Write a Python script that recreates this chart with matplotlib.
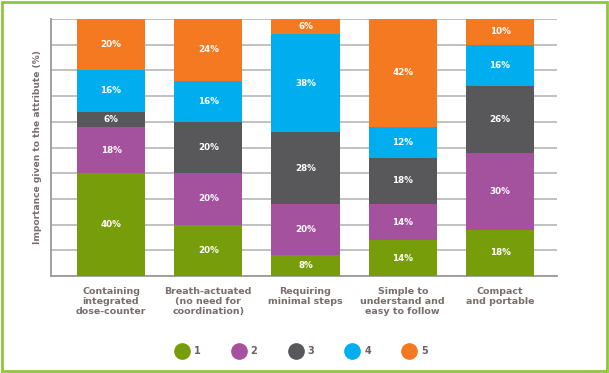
import matplotlib.pyplot as plt
import matplotlib.patches as mpatches
from matplotlib.lines import Line2D

categories = ["Containing\nintegrated\ndose-counter",
              "Breath-actuated\n(no need for\ncoordination)",
              "Requiring\nminimal steps",
              "Simple to\nunderstand and\neasy to follow",
              "Compact\nand portable"]
series_names = ["1", "2", "3", "4", "5"]
s1 = [40, 20, 8, 14, 18]
s2 = [18, 20, 20, 14, 30]
s3 = [6, 20, 28, 18, 26]
s4 = [16, 16, 38, 12, 16]
s5 = [20, 24, 6, 42, 10]
series = [s1, s2, s3, s4, s5]
colors = ["#789D0B", "#A5529E", "#58585A", "#00AEEF", "#F47920"]

fig = plt.figure(figsize=(6.09, 3.73), dpi=100)
ax = fig.add_axes([51/609, 1-276/373, (557-51)/609, (276-19)/373])

x = list(range(len(categories)))
bottom = [0]*len(categories)
for vals, col in zip(series, colors):
    ax.bar(x, vals, bottom=bottom, width=0.70, color=col, zorder=3)
    for xi, v, b in zip(x, vals, bottom):
        ax.text(xi, b + v/2, f"{v}%", ha="center", va="center", color="white",
                fontsize=6.3, fontweight="bold", zorder=4)
    bottom = [b + v for b, v in zip(bottom, vals)]

ax.set_xlim(-0.617, 4.586)
ax.set_ylim(0, 100)
ax.set_yticks(range(0, 101, 10))
ax.set_yticklabels([])
ax.tick_params(axis="y", length=0)
ax.tick_params(axis="x", length=0, pad=8)
ax.grid(axis="y", color="#bcbcbc", linewidth=1.3, zorder=0)
ax.set_xticks(x)
ax.set_xticklabels(categories, fontsize=6.8, fontweight="bold", color="#7a6e6e", linespacing=1.1)
for s in ["top", "right"]:
    ax.spines[s].set_visible(False)
ax.spines["left"].set_color("#9a9a9a")
ax.spines["left"].set_linewidth(1.3)
ax.spines["bottom"].set_color("#9a9a9a")
ax.spines["bottom"].set_linewidth(1.3)
ax.set_ylabel("Importance given to the attribute (%)", fontsize=6.6, fontweight="bold",
              color="#7a6e6e", labelpad=3)

handles = [Line2D([0], [0], marker="o", linestyle="", markersize=11, markerfacecolor=c,
                  markeredgecolor=c) for c in colors]
fig.legend(handles, series_names, loc="center", bbox_to_anchor=(300/609, 1-351/373),
           ncol=5, frameon=False, handletextpad=0.2, columnspacing=2.95,
           labelcolor="#6d6161", prop={"weight": "bold", "size": 7})

fig.patches.append(mpatches.Rectangle((0.003, 0.005), 0.994, 0.99, transform=fig.transFigure,
                                      fill=False, edgecolor="#8DC63F", linewidth=2))
fig.savefig("out.png", dpi=100)
